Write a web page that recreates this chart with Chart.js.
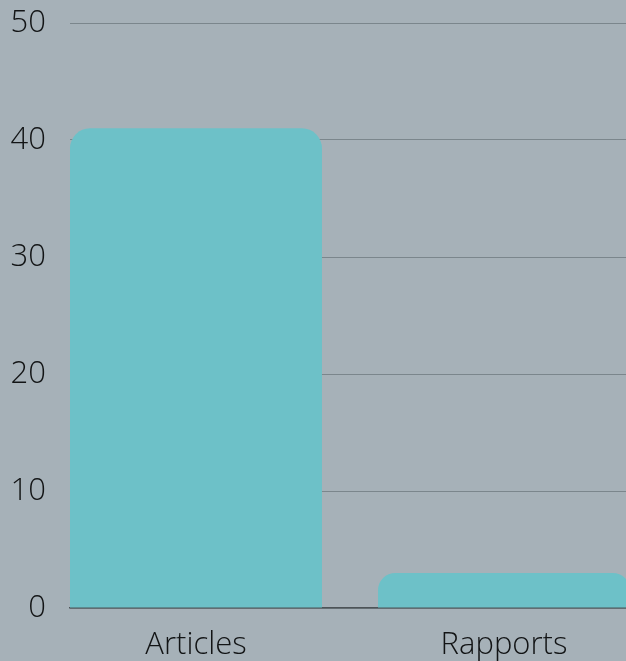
<!DOCTYPE html>
<html>
<head>
<meta charset="utf-8">
<script src="https://cdn.jsdelivr.net/npm/chart.js@4"></script>
<style>
  html, body { margin: 0; padding: 0; background: #a6b1b8; overflow: hidden; }
  canvas { display: block; }
</style>
</head>
<body>
<canvas id="c" width="626" height="661"></canvas>
<script>
const categories = ['Articles', 'Rapports'];
const values = [41, 3];
const yTicks = [0, 10, 20, 30, 40, 50];

const FONT = "'Open Sans', sans-serif";

new Chart(document.getElementById('c'), {
  type: 'bar',
  data: {
    datasets: [{
      data: categories.map((c, i) => ({ x: i, y: values[i] })),
      backgroundColor: '#6dc1c8',
      borderWidth: 0,
      borderRadius: { topLeft: 20, topRight: 20, bottomLeft: 0, bottomRight: 0 },
      borderSkipped: 'bottom',
      categoryPercentage: 1,
      barPercentage: 0.818
    }]
  },
  options: {
    responsive: false,
    animation: false,
    layout: { padding: { top: 23, right: 0, left: 0, bottom: 0 } },
    plugins: { legend: { display: false }, tooltip: { enabled: false } },
    scales: {
      x: {
        type: 'linear',
        offset: false,
        min: -0.409,
        max: 1.396,
        afterBuildTicks: (s) => { s.ticks = categories.map((c, i) => ({ value: i })); },
        afterFit: (s) => { s.height = 53; s.paddingLeft = 0; s.paddingRight = 0; },
        ticks: {
          callback: (v) => categories[v],
          color: '#121415',
          font: { family: FONT, size: 31, weight: 300 },
          padding: 11,
          maxRotation: 0,
          autoSkip: false
        },
        grid: { display: false, offset: false },
        border: { display: true, color: '#4d5458', width: 1.5 }
      },
      y: {
        min: 0,
        max: 50,
        afterBuildTicks: (s) => { s.ticks = yTicks.map(v => ({ value: v })); },
        afterFit: (s) => { s.width = 70; s.paddingTop = 0; s.paddingBottom = 0; },
        ticks: {
          color: '#121415',
          font: { family: FONT, size: 31, weight: 300 },
          padding: 24
        },
        grid: { color: '#7b868c', lineWidth: 1, drawTicks: false },
        border: { display: false }
      }
    }
  }
});
</script>
</body>
</html>
